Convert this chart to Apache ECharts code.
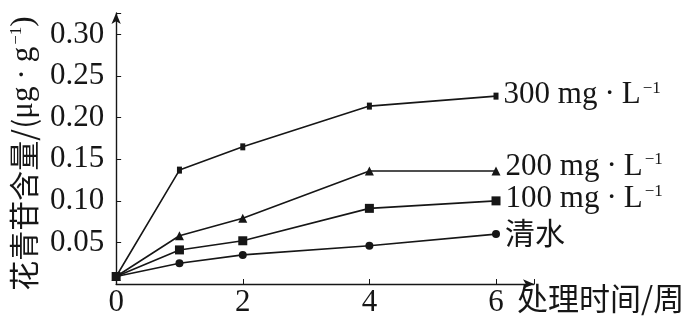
<!DOCTYPE html>
<html><head><meta charset="utf-8">
<script src="https://cdn.jsdelivr.net/npm/echarts@6/dist/echarts.min.js"></script>
<style>html,body{margin:0;padding:0;background:#fff}#c{width:685px;height:324px}</style>
</head><body><div id="c"></div>
<script>
const weeks = [0, 1, 2, 4, 6];
const s300 = [0.009, 0.137, 0.165, 0.214, 0.226];
const s200 = [0.009, 0.058, 0.079, 0.136, 0.136];
const s100 = [0.009, 0.041, 0.052, 0.091, 0.100];
const sWater = [0.009, 0.025, 0.035, 0.046, 0.060];
const seriesNames = ['300', '200', '100', '清水'];
const xTicks = [0, 2, 4, 6];
const yTicks = [0.05, 0.10, 0.15, 0.20, 0.25, 0.30];

const serif = '"Liberation Serif", "Noto Sans CJK SC", serif';
const cjk = '"Noto Sans CJK SC", sans-serif';
const ink = '#161616';
const rich = {
  n: {fontFamily: serif, fontSize: 31, color: ink},
  d: {fontFamily: serif, fontSize: 31, color: ink, padding: [0, 7, 0, 7]},
  sup: {fontFamily: serif, fontSize: 17, color: ink, padding: [0, 0, 14, 2]},
  c: {fontFamily: cjk, fontSize: 30, color: ink}
};
function unitLabel(v) { return '{n|' + v + ' mg}{d|·}{n|L}{sup|−1}'; }

function mk(name, vals, symbol, size, labelText, dy) {
  return {
    name: name, type: 'line', symbol: symbol, symbolSize: size,
    data: vals.map((v, i) => {
      const p = {value: [weeks[i], v]};
      if (i === vals.length - 1) {
        p.label = {show: true, position: 'right', distance: 5, offset: [0, dy],
          formatter: labelText, rich: rich};
      }
      return p;
    }),
    lineStyle: {color: ink, width: 1.6},
    itemStyle: {color: ink},
    label: {show: false},
    emphasis: {disabled: true}, animation: false
  };
}

const chart = echarts.init(document.getElementById('c'));
chart.setOption({
  animation: false,
  grid: {left: 109, right: 151, top: 13, bottom: 40},
  xAxis: {
    type: 'value', min: 0, max: 6.6, interval: 2,
    axisLine: {lineStyle: {color: ink, width: 1.4}, symbol: ['none', 'arrow'], symbolSize: [7, 11]},
    axisTick: {inside: true, length: 5, lineStyle: {color: ink}},
    splitLine: {show: false},
    axisLabel: {fontFamily: serif, fontSize: 31, color: ink, margin: 3,
      formatter: v => xTicks.includes(v) ? String(v) : ''}
  },
  yAxis: {
    type: 'value', min: 0, max: 0.326, interval: 0.05,
    axisLine: {lineStyle: {color: ink, width: 1.4}, symbol: ['none', 'arrow'], symbolSize: [7, 11]},
    axisTick: {inside: true, length: 5, lineStyle: {color: ink}},
    splitLine: {show: false},
    axisLabel: {fontFamily: serif, fontSize: 31, color: ink, margin: 12,
      formatter: v => { const t = yTicks.find(k => Math.abs(k - v) < 1e-9); return t ? t.toFixed(2) : ''; }},
    name: '{c|花青苷含量/(}{n|μg}{d|·}{n|g}{sup|−1}{n|)}',
    nameLocation: 'middle', nameRotate: 90, nameGap: 75,
    nameTextStyle: {rich: rich, padding: [0, 10, 0, 0]}
  },
  graphic: [{
    type: 'text', left: 517, top: 283,
    style: {text: '处理时间/周', font: '31px "Noto Sans CJK SC"', fill: ink}
  }],
  series: [
    mk(seriesNames[0], s300, 'rect', [5, 7], unitLabel(seriesNames[0]), -1),
    mk(seriesNames[1], s200, 'triangle', 9, unitLabel(seriesNames[1]), -4),
    mk(seriesNames[2], s100, 'rect', 9, unitLabel(seriesNames[2]), -2),
    mk(seriesNames[3], sWater, 'circle', 8, '{c|' + seriesNames[3] + '}', -2)
  ]
});
</script></body></html>
